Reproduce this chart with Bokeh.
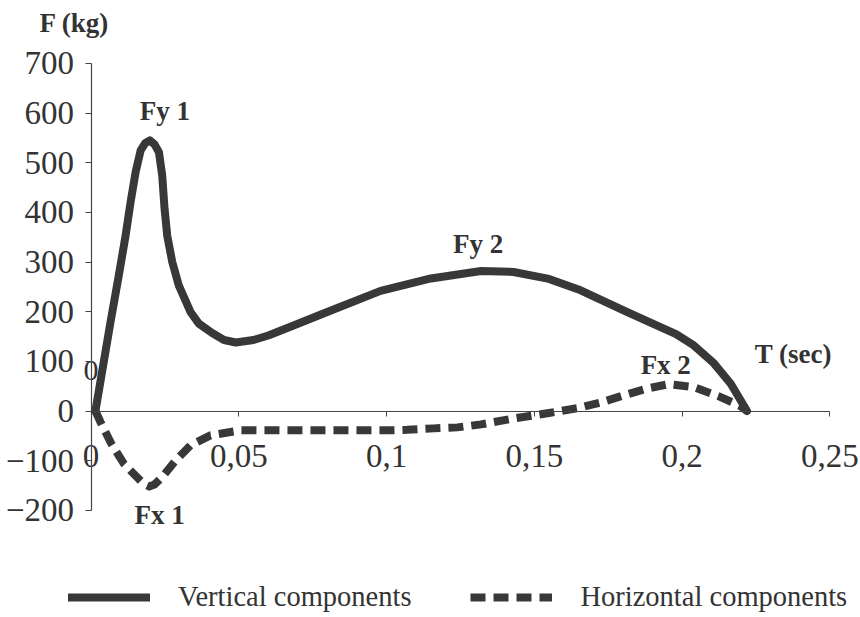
from bokeh.plotting import figure
from bokeh.models import FixedTicker, Range1d, Legend, LegendItem
from bokeh.core.properties import value
from bokeh.embed import file_html
from bokeh.resources import INLINE

# ---- data ----
t_vertical = [0.0015, 0.0066, 0.0094, 0.0117, 0.0134, 0.0151, 0.0168, 0.0184, 0.0199,
              0.0215, 0.0230, 0.0241, 0.0249, 0.0258, 0.0275, 0.0297, 0.0337, 0.0365,
              0.041, 0.045, 0.049, 0.055, 0.060, 0.066, 0.081, 0.098, 0.115, 0.132,
              0.143, 0.155, 0.1657, 0.1815, 0.1916, 0.198, 0.204, 0.2108, 0.2165, 0.222]
f_vertical = [0, 179, 273, 353, 421, 481, 525, 540, 545,
              537, 521, 474, 407, 353, 300, 253, 199, 176,
              157, 143, 138, 143, 152, 166, 202, 242, 267, 282,
              280, 266, 243, 199, 172, 155, 132, 96, 55, 0]

t_horizontal = [0.0015, 0.0032, 0.0068, 0.0111, 0.0150, 0.0179, 0.0197, 0.0215, 0.0241,
                0.0286, 0.0337, 0.0404, 0.0506, 0.075, 0.100, 0.107, 0.116, 0.124,
                0.132, 0.143, 0.155, 0.165, 0.173, 0.180, 0.188, 0.1955, 0.204,
                0.2127, 0.2195, 0.222]
f_horizontal = [0, -22, -65, -106, -130, -147, -152, -148, -133,
                -100, -69, -49, -39, -39, -39, -38, -35, -33,
                -27, -15, -4, 6, 18, 31, 45, 54, 48,
                29, 11, 0]

x_ticks = [0, 0.05, 0.1, 0.15, 0.2, 0.25]
x_tick_labels = ["0", "0,05", "0,1", "0,15", "0,2", "0,25"]
y_ticks = [-200, -100, 0, 100, 200, 300, 400, 500, 600, 700]

legend_labels = ["Vertical components", "Horizontal components"]
peak_labels = ["Fy 1", "Fy 2", "Fx 1", "Fx 2"]

FONT = "Liberation Serif"
INK = "#383838"
TXT = "#333333"

W, H = 860, 617
KX = 2955.0     # px per unit of time
KY = 0.4965     # px per kg
X0_PX = 90.5    # x=0 position from left of canvas
Y0_PX = 410.5   # y=0 position from top of canvas

x_start = -X0_PX / KX
x_end = x_start + W / KX
y_end = Y0_PX / KY
y_start = y_end - H / KY

p = figure(width=W, height=H, output_backend="svg", toolbar_location=None,
           x_range=Range1d(x_start, x_end), y_range=Range1d(y_start, y_end),
           min_border_left=0, min_border_right=0, min_border_top=0,
           min_border_bottom=0, title=None)
p.outline_line_color = None
p.grid.visible = False
p.background_fill_color = "white"
p.border_fill_color = "white"

r_v = p.line(t_vertical, f_vertical, line_width=8, line_color=INK,
             line_join="round", line_cap="round")
r_h = p.line(t_horizontal, f_horizontal, line_width=8, line_color=INK,
             line_dash="15 8", line_join="miter", line_cap="butt")

# axes crossing at the origin
xa = p.xaxis[0]
xa.fixed_location = 0
xa.ticker = FixedTicker(ticks=x_ticks)
xa.major_label_overrides = {t: s for t, s in zip(x_ticks, x_tick_labels)}
xa.bounds = (0, 0.25)
xa.major_tick_out = 5
xa.major_tick_in = 0
xa.major_label_standoff = 29
ya = p.yaxis[0]
ya.fixed_location = 0
ya.ticker = FixedTicker(ticks=y_ticks)
ya.bounds = (-200, 700)
ya.major_tick_out = 6
ya.major_tick_in = 0
ya.major_label_standoff = 11
for ax in (xa, ya):
    ax.minor_tick_line_color = None
    ax.axis_line_color = "#444444"
    ax.axis_line_width = 1.2
    ax.major_tick_line_color = "#444444"
    ax.major_label_text_font = FONT
    ax.major_label_text_font_size = "33px"
    ax.major_label_text_color = TXT

# peak labels, positioned from the data extremes
iv1 = f_vertical.index(max(f_vertical))
second = f_vertical[iv1 + 10:]
iv2 = iv1 + 10 + second.index(max(second))
ih1 = f_horizontal.index(min(f_horizontal))
ih2 = f_horizontal.index(max(f_horizontal))
lab_x = [t_vertical[iv1] + 0.0051, t_vertical[iv2] - 0.001,
         t_horizontal[ih1] + 0.0035, t_horizontal[ih2] - 0.001]
lab_y = [f_vertical[iv1] + 60, f_vertical[iv2] + 55,
         f_horizontal[ih1] - 58, f_horizontal[ih2] + 38]
p.text(x=lab_x, y=lab_y, text=peak_labels, text_font=value(FONT),
       text_font_style="bold", text_font_size="27px", text_color=TXT,
       text_align="center", text_baseline="middle")

# axis titles and the stray "0" data label
p.text(x=[0.2377, -0.0056], y=[114, 782], text=["T (sec)", "F (kg)"],
       text_font=value(FONT), text_font_style="bold", text_font_size="27px",
       text_color=TXT, text_align="center", text_baseline="middle")
p.text(x=[0.0], y=[81], text=["0"], text_font=value(FONT),
       text_font_size="30px", text_color=TXT,
       text_align="center", text_baseline="middle")

legend = Legend(items=[LegendItem(label=legend_labels[0], renderers=[r_v]),
                       LegendItem(label=legend_labels[1], renderers=[r_h])],
                orientation="horizontal", location=(68, 4),
                glyph_width=82, glyph_height=24, label_height=24,
                label_standoff=28, spacing=59, padding=0, margin=0,
                border_line_color=None, background_fill_alpha=0,
                label_text_font=FONT, label_text_font_size="28.5px",
                label_text_color=TXT)
p.add_layout(legend)

open("out.html", "w").write(file_html(p, INLINE))
